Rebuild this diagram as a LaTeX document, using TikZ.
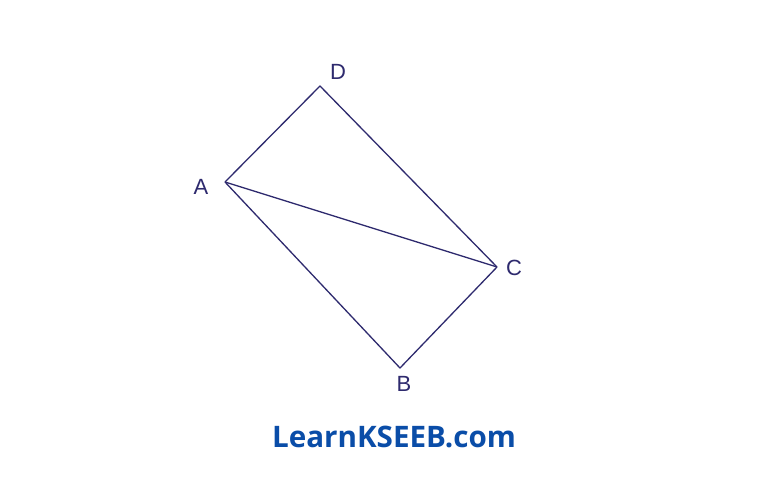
\documentclass[tikz,border=0pt]{standalone}
\usepackage{fontspec}
\setmainfont{Open Sans}
\newfontfamily\labelfont{Liberation Sans}
\definecolor{inkline}{HTML}{2E2A6E}
\definecolor{siteblue}{HTML}{0A4DA8}
\tikzset{
	vertexlabel/.style={font=\labelfont\fontsize{22}{22}\selectfont,text=inkline,inner sep=0pt},
	side/.style={draw=inkline,line width=1.3pt,line join=round}
}
\begin{document}
\begin{tikzpicture}[x=1pt,y=-1pt]
	\useasboundingbox[fill=white] (0,0) rectangle (768,485);
	\coordinate (A) at (225,182);
	\coordinate (D) at (320,86);
	\coordinate (C) at (497,267);
	\coordinate (B) at (400,368);
	\node[vertexlabel] (lA) at (201,187) {A};
	\node[vertexlabel] (lD) at (338,72) {D};
	\node[vertexlabel] (lC) at (514,268) {C};
	\node[vertexlabel] (lB) at (404,384) {B};
	\draw[side] (A) -- (D) -- (C) -- (B) -- cycle;
	\draw[side] (A) -- (C);
	\node[font=\bfseries\fontsize{29.6}{29.6}\selectfont,text=siteblue] (site) at (394,437) {LearnKSEEB.com};
\end{tikzpicture}
\end{document}
